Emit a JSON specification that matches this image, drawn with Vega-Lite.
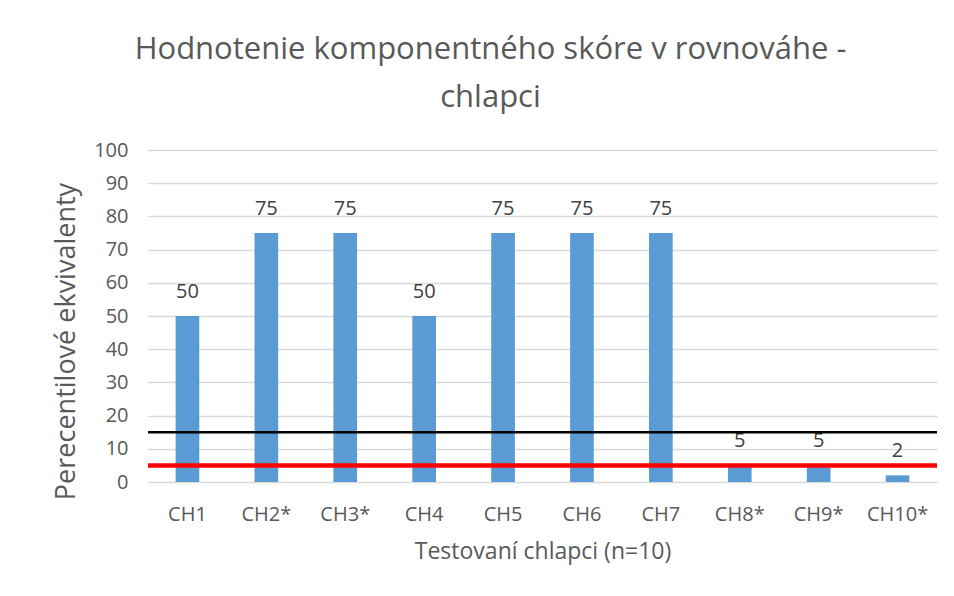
{
  "$schema": "https://vega.github.io/schema/vega-lite/v6.json",
  "width": 789,
  "height": 332,
  "autosize": {"type": "none"},
  "padding": {"left": 148, "top": 150, "right": 17, "bottom": 114},
  "background": "white",
  "config": {"view": {"stroke": null}, "font": "Open Sans"},
  "title": {
    "text": ["Hodnotenie komponentného skóre v rovnováhe -", "chlapci"],
    "fontSize": 31,
    "fontWeight": "normal",
    "color": "#595959",
    "anchor": "middle",
    "dx": -52,
    "offset": 26,
    "lineHeight": 48,
    "font": "Open Sans"
  },
  "datasets": {
    "bars": [
      {"hrac": "CH1", "hodnota": 50},
      {"hrac": "CH2*", "hodnota": 75},
      {"hrac": "CH3*", "hodnota": 75},
      {"hrac": "CH4", "hodnota": 50},
      {"hrac": "CH5", "hodnota": 75},
      {"hrac": "CH6", "hodnota": 75},
      {"hrac": "CH7", "hodnota": 75},
      {"hrac": "CH8*", "hodnota": 5},
      {"hrac": "CH9*", "hodnota": 5},
      {"hrac": "CH10*", "hodnota": 2}
    ],
    "lines": [
      {"hodnota": 15, "farba": "black", "hrubka": 2.5},
      {"hodnota": 5, "farba": "red", "hrubka": 4.5}
    ]
  },
  "layer": [
    {
      "data": {"name": "bars"},
      "encoding": {
        "x": {
          "field": "hrac",
          "type": "nominal",
          "sort": null,
          "scale": {"paddingInner": 0.7, "paddingOuter": 0.35},
          "axis": {
            "title": "Testovaní chlapci (n=10)",
            "titleFontSize": 23,
            "titleFontWeight": "normal",
            "titleColor": "#595959",
            "titlePadding": 16,
            "labelAngle": 0,
            "labelFontSize": 20,
            "labelColor": "#595959",
            "labelPadding": 22,
            "labelOverlap": false,
            "ticks": false,
            "domain": false
          }
        },
        "y": {
          "field": "hodnota",
          "type": "quantitative",
          "scale": {"domain": [0, 100], "nice": false},
          "axis": {
            "title": "Perecentilové ekvivalenty",
            "titleFontSize": 27,
            "titleFontWeight": "normal",
            "titleColor": "#595959",
            "titleY": 191,
            "titleX": -82,
            "titleAlign": "center",
            "titleBaseline": "middle",
            "values": [0, 10, 20, 30, 40, 50, 60, 70, 80, 90, 100],
            "labelFontSize": 20,
            "labelColor": "#595959",
            "labelPadding": 20,
            "labelOverlap": false,
            "ticks": false,
            "domain": false,
            "grid": true,
            "gridColor": "#d9d9d9",
            "gridWidth": 1.5
          }
        }
      },
      "layer": [
        {"mark": {"type": "bar", "color": "#5B9BD5"}},
        {
          "mark": {"type": "text", "dy": -24, "fontSize": 20, "color": "#404040", "font": "Open Sans"},
          "encoding": {"text": {"field": "hodnota", "type": "quantitative"}}
        }
      ]
    },
    {
      "data": {"name": "lines"},
      "mark": {"type": "rule"},
      "encoding": {
        "y": {
          "field": "hodnota",
          "type": "quantitative",
          "axis": {
            "title": "Perecentilové ekvivalenty",
            "titleFontSize": 27,
            "titleFontWeight": "normal",
            "titleColor": "#595959",
            "titleY": 191,
            "titleX": -82,
            "titleAlign": "center",
            "titleBaseline": "middle",
            "values": [0, 10, 20, 30, 40, 50, 60, 70, 80, 90, 100],
            "labelFontSize": 20,
            "labelColor": "#595959",
            "labelPadding": 20,
            "labelOverlap": false,
            "ticks": false,
            "domain": false,
            "grid": true,
            "gridColor": "#d9d9d9",
            "gridWidth": 1.5
          }
        },
        "color": {"field": "farba", "type": "nominal", "scale": null, "legend": null},
        "strokeWidth": {"field": "hrubka", "type": "quantitative", "scale": null, "legend": null}
      }
    }
  ]
}
